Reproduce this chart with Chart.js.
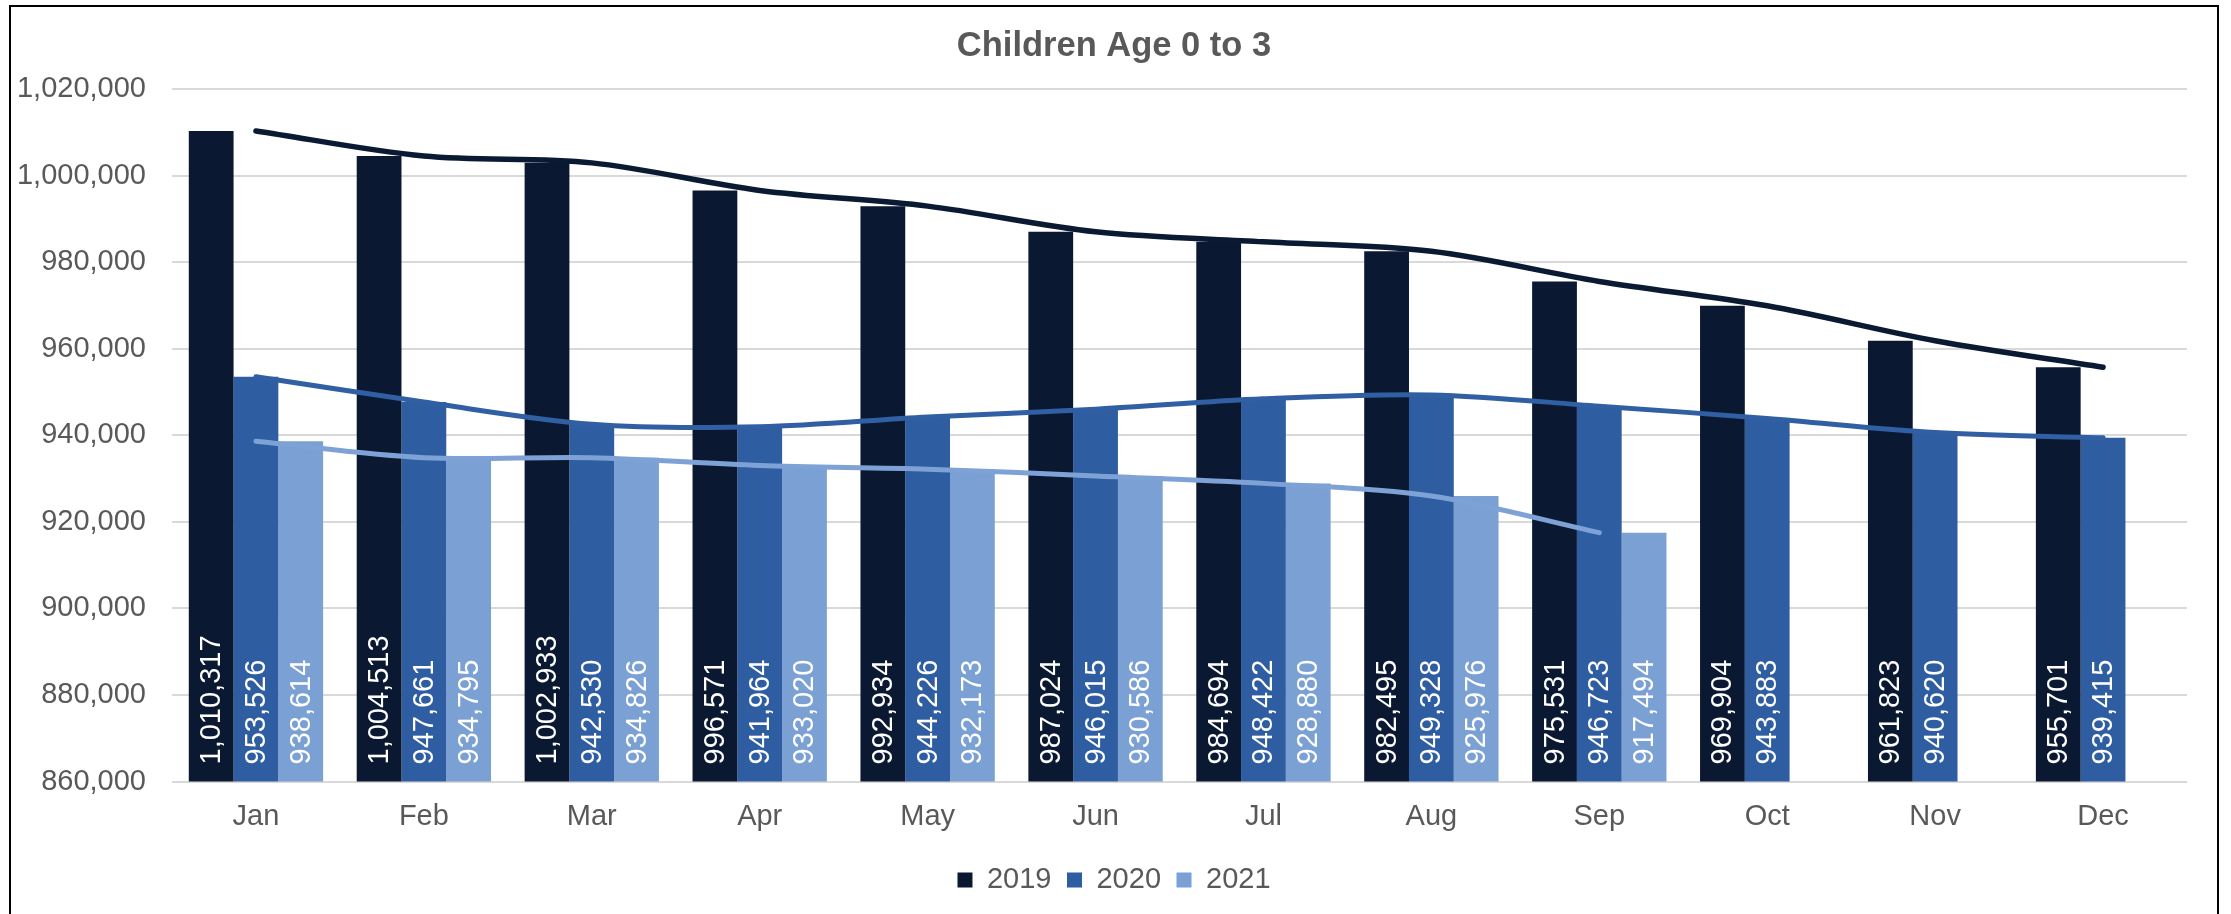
<!DOCTYPE html>
<html>
<head>
<meta charset="utf-8">
<script src="https://cdn.jsdelivr.net/npm/chart.js@4.4.1/dist/chart.umd.min.js"></script>
<style>
  html, body { margin: 0; padding: 0; background: #fff; overflow: hidden; }
  #frame {
    position: absolute; left: 9px; top: 5px;
    width: 2206px; height: 907px;
    border: 2px solid #000; border-bottom: none;
  }
  #Chart1 { display: block; }
</style>
</head>
<body>
<div id="frame"><canvas id="Chart1" width="2206" height="907"></canvas></div>
<script>
var months = ["Jan","Feb","Mar","Apr","May","Jun","Jul","Aug","Sep","Oct","Nov","Dec"];
var years = ["2019","2020","2021"];
var kids2019 = [1010317, 1004513, 1002933, 996571, 992934, 987024, 984694, 982495, 975531, 969904, 961823, 955701];
var kids2020 = [953526, 947661, 942530, 941964, 944226, 946015, 948422, 949328, 946723, 943883, 940620, 939415];
var kids2021 = [938614, 934795, 934826, 933020, 932173, 930586, 928880, 925976, 917494, null, null, null];
var yTicks = [860000, 880000, 900000, 920000, 940000, 960000, 980000, 1000000, 1020000];

var barColors = ["#0A1931", "#2F5DA1", "#7BA0D4"];
var lineColors = ["#0B1A33", "#305FA4", "#7EA2D6"];
var textGrey = "#595959";
var fontName = "'Liberation Sans', Arial, sans-serif";

function fmt(v) { return v.toLocaleString("en-US"); }

// white rotated value labels sitting at the foot of each bar
var barValueLabels = {
  id: "barValueLabels",
  afterDatasetsDraw: function(chart) {
    var ctx = chart.ctx;
    var base = chart.scales.y.bottom;
    ctx.save();
    ctx.fillStyle = "#ffffff";
    ctx.font = "29px " + fontName;
    ctx.textAlign = "left";
    ctx.textBaseline = "middle";
    chart.data.datasets.forEach(function(ds, i) {
      if (ds.type !== "bar") return;
      var meta = chart.getDatasetMeta(i);
      meta.data.forEach(function(bar, j) {
        var v = ds.data[j];
        if (v == null) return;
        ctx.save();
        ctx.translate(bar.x + 1, base - 17);
        ctx.rotate(-Math.PI / 2);
        ctx.fillText(fmt(v), 0, 0);
        ctx.restore();
      });
    });
    ctx.restore();
  }
};

var series = [kids2019, kids2020, kids2021];
var datasets = [];
series.forEach(function(vals, i) {
  datasets.push({
    type: "bar",
    label: years[i],
    data: vals,
    backgroundColor: barColors[i],
    borderWidth: 0,
    categoryPercentage: 0.8,
    barPercentage: 1.0,
    order: 2
  });
});
series.forEach(function(vals, i) {
  datasets.push({
    type: "line",
    label: years[i] + " trend",
    data: vals,
    borderColor: lineColors[i],
    backgroundColor: lineColors[i],
    borderWidth: i === 0 ? 5.5 : 5,
    borderCapStyle: "round",
    pointRadius: 0,
    pointHoverRadius: 0,
    tension: 0.33,
    spanGaps: false,
    order: 1
  });
});

var ctx1 = document.getElementById("Chart1").getContext("2d");
var myChart = new Chart(ctx1, {
  data: { labels: months, datasets: datasets },
  plugins: [barValueLabels],
  options: {
    responsive: false,
    animation: false,
    devicePixelRatio: 1,
    layout: { padding: { left: 0, right: 0, top: 0, bottom: 9.5 } },
    plugins: {
      tooltip: { enabled: false },
      title: {
        display: true,
        text: "Children Age 0 to 3",
        color: textGrey,
        font: { family: fontName, size: 34.5, weight: "bold", lineHeight: 1.2 },
        padding: { top: 19, bottom: 21.6 }
      },
      legend: {
        position: "bottom",
        labels: {
          filter: function(item) { return item.datasetIndex < 3; },
          boxWidth: 15,
          boxHeight: 15,
          padding: 15.5,
          color: textGrey,
          font: { family: fontName, size: 29 }
        }
      }
    },
    scales: {
      x: {
        offset: true,
        grid: { display: false, drawTicks: false },
        border: { display: false },
        ticks: { color: textGrey, font: { family: fontName, size: 29 }, padding: 18 },
        afterFit: function(scale) { scale.height = 68.5; }
      },
      y: {
        min: 860000,
        max: 1020000,
        afterBuildTicks: function(scale) {
          scale.ticks = yTicks.map(function(v) { return { value: v }; });
        },
        grid: { color: "#D9D9D9", lineWidth: 2, drawTicks: false },
        border: { display: false },
        ticks: {
          color: textGrey,
          font: { family: fontName, size: 29 },
          padding: 26,
          callback: function(v) { return fmt(v); }
        },
        afterFit: function(scale) { scale.width = 161; }
      },
      // empty right-hand strip so the plot stops short of the frame
      rightGap: {
        type: "linear",
        position: "right",
        display: true,
        grid: { display: false, drawTicks: false },
        border: { display: false },
        ticks: { display: false },
        afterFit: function(scale) { scale.width = 30; }
      }
    }
  }
});
</script>
</body>
</html>
